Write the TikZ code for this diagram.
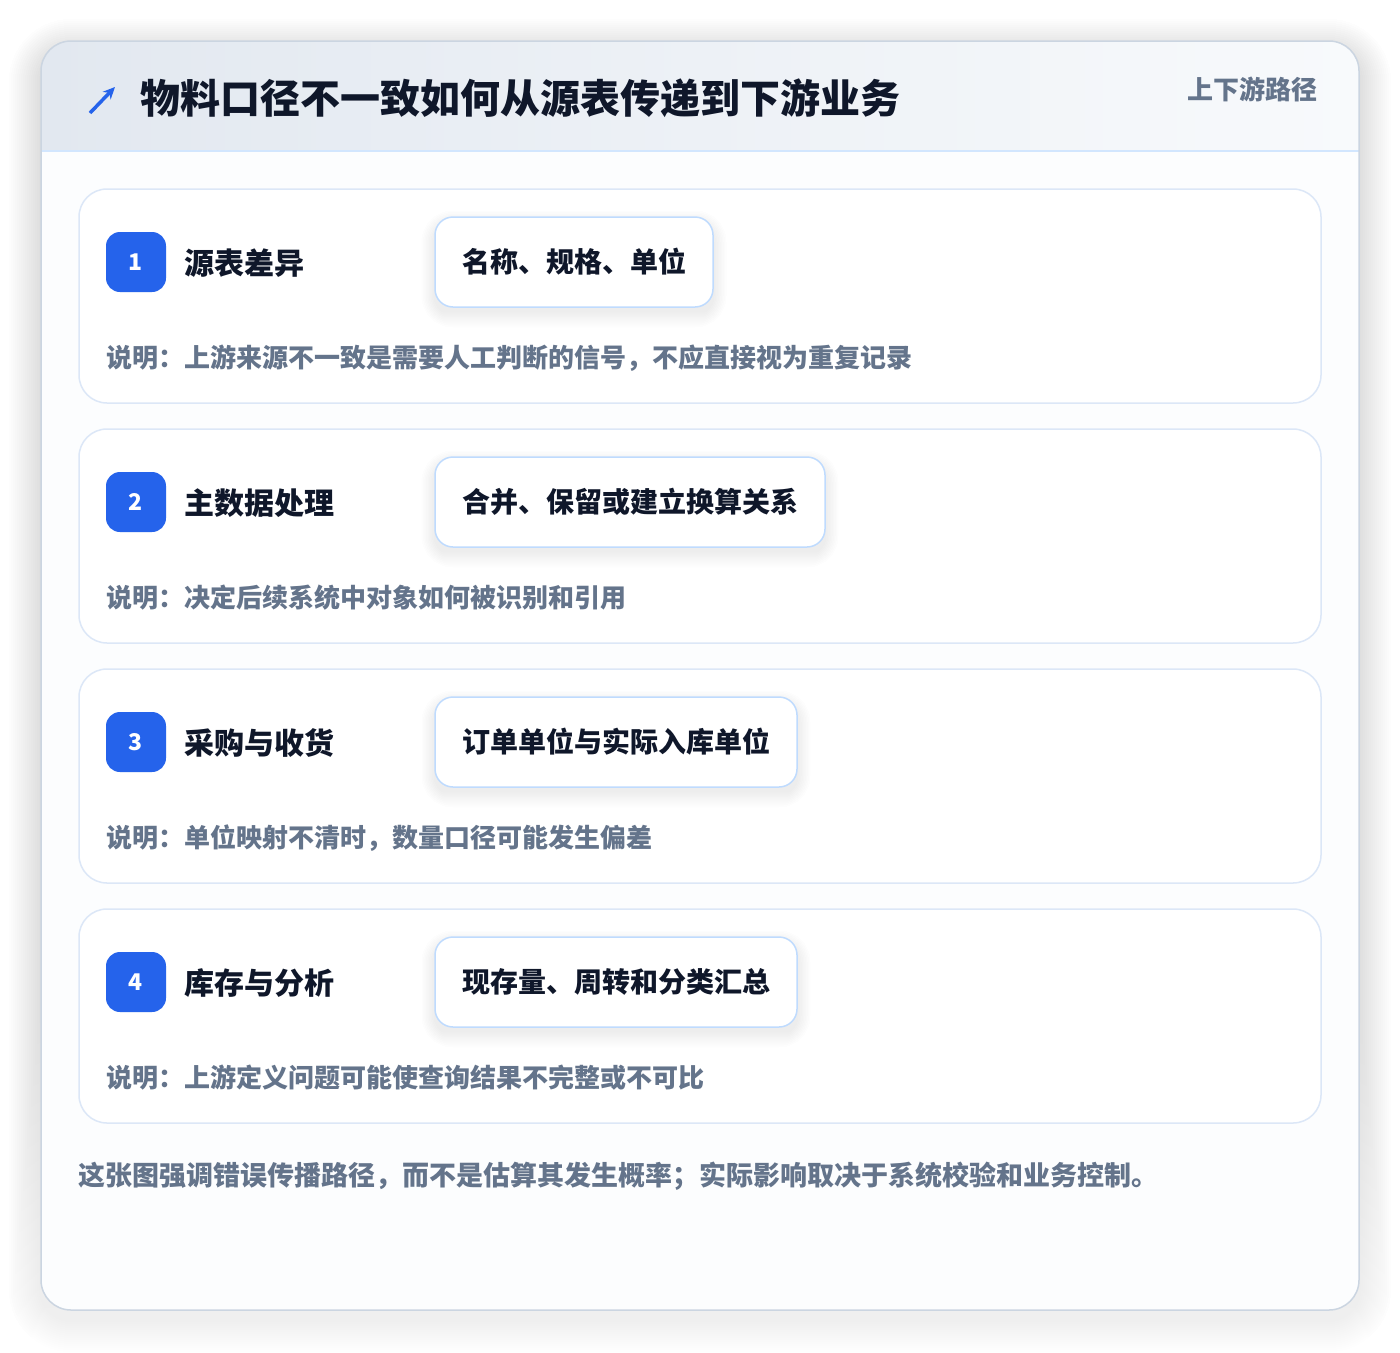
\documentclass[tikz,border=0pt]{standalone}
\usepackage{fontspec}
\setmainfont{Noto Sans CJK SC}
\usetikzlibrary{arrows.meta}
\definecolor{accent}{HTML}{2563EB}
\definecolor{ink}{HTML}{0F172A}
\definecolor{muted}{HTML}{64748B}
\definecolor{cardline}{HTML}{DCE7F7}
\definecolor{chipline}{HTML}{BFDBFE}
\definecolor{outline}{HTML}{CBD5E1}
\definecolor{headL}{HTML}{E2E8F0}
\definecolor{headR}{HTML}{F8FAFC}
\definecolor{bodybg}{HTML}{FCFDFE}
\definecolor{shade}{HTML}{1E293B}
\tikzset{
  stepcard/.style={draw=cardline, line width=1.5pt, fill=white, rounded corners=28pt},
  chip/.style={draw=chipline, line width=1.5pt, fill=white, rounded corners=18pt},
  badge/.style={fill=accent, rounded corners=14pt},
  steptitle/.style={anchor=base west, inner sep=0pt, text=ink, font=\bfseries\fontsize{30}{36}\selectfont},
  chiptext/.style={anchor=base west, inner sep=0pt, text=ink, font=\bfseries\fontsize{28}{34}\selectfont},
  desc/.style={anchor=base west, inner sep=0pt, text=muted, font=\bfseries\fontsize{26}{32}\selectfont},
  num/.style={inner sep=0pt, text=white, font=\bfseries\fontsize{23}{28}\selectfont},
}
\begin{document}
\begin{tikzpicture}[x=1pt,y=-1pt]
\useasboundingbox (0,0) rectangle (1400,1352);
\fill[white] (0,0) rectangle (1400,1352);
% outer card shadow
\foreach \k in {1,...,16}{
  \fill[shade, opacity=0.0045, rounded corners=30pt+\k*2pt]
    (41-\k*2,41-\k*2+10) rectangle (1359+\k*2,1310+\k*2+10);
}
% outer card
\path[fill=bodybg, rounded corners=30pt] (41,41) rectangle (1359,1310);
\begin{scope}
  \clip[rounded corners=30pt] (41,41) rectangle (1359,1310);
  \shade[left color=headL, right color=headR] (41,41) rectangle (1359,151);
  \draw[chipline!70!white, line width=1.5pt] (41,151) -- (1359,151);
\end{scope}
\draw[outline, line width=1.5pt, rounded corners=30pt] (41,41) rectangle (1359,1310);
% header
\coordinate (arrA) at (90,113);
\coordinate (arrB) at (115,87);
\draw[accent, line width=3.5pt, -{Stealth[length=12pt,width=11pt]}] (arrA) -- (arrB);
\node[anchor=base west, inner sep=0pt, text=ink, font=\bfseries\fontsize{40}{48}\selectfont] (title) at (140,113) {物料口径不一致如何从源表传递到下游业务};
\node[anchor=base east, inner sep=0pt, text=muted, font=\bfseries\fontsize{26}{32}\selectfont] (tag) at (1318,99) {上下游路径};
% steps
\foreach \i/\yc/\ttl/\chipw/\chiptxt/\dsc in {
  1/262/源表差异/713/名称、规格、单位/说明：上游来源不一致是需要人工判断的信号，不应直接视为重复记录,
  2/502/主数据处理/825/合并、保留或建立换算关系/说明：决定后续系统中对象如何被识别和引用,
  3/742/采购与收货/797/订单单位与实际入库单位/说明：单位映射不清时，数量口径可能发生偏差,
  4/982/库存与分析/797/现存量、周转和分类汇总/说明：上游定义问题可能使查询结果不完整或不可比}{
  \path[stepcard] (79,\yc-73) rectangle (1321,\yc+141);
  \foreach \k in {1,...,9}{
    \fill[shade, opacity=0.0045, rounded corners=18pt+\k*1.5pt]
      (435-\k*1.5,\yc-45-\k*1.5+7) rectangle (\chipw+\k*1.5,\yc+45+\k*1.5+7);
  }
  \path[chip] (435,\yc-45) rectangle (\chipw,\yc+45);
  \path[badge] (106,\yc-30) rectangle (166,\yc+30);
  \node[num] (n\i) at (136,\yc) {\i};
  \node[steptitle] (t\i) at (184,\yc+12.4) {\ttl};
  \node[chiptext] (c\i) at (462,\yc+10.6) {\chiptxt};
  \node[desc] (d\i) at (106,\yc+105) {\dsc};
}
\node[anchor=base west, inner sep=0pt, text=muted, font=\bfseries\fontsize{27}{33}\selectfont] (foot) at (78,1185.5) {这张图强调错误传播路径，而不是估算其发生概率；实际影响取决于系统校验和业务控制。};
\end{tikzpicture}
\end{document}
